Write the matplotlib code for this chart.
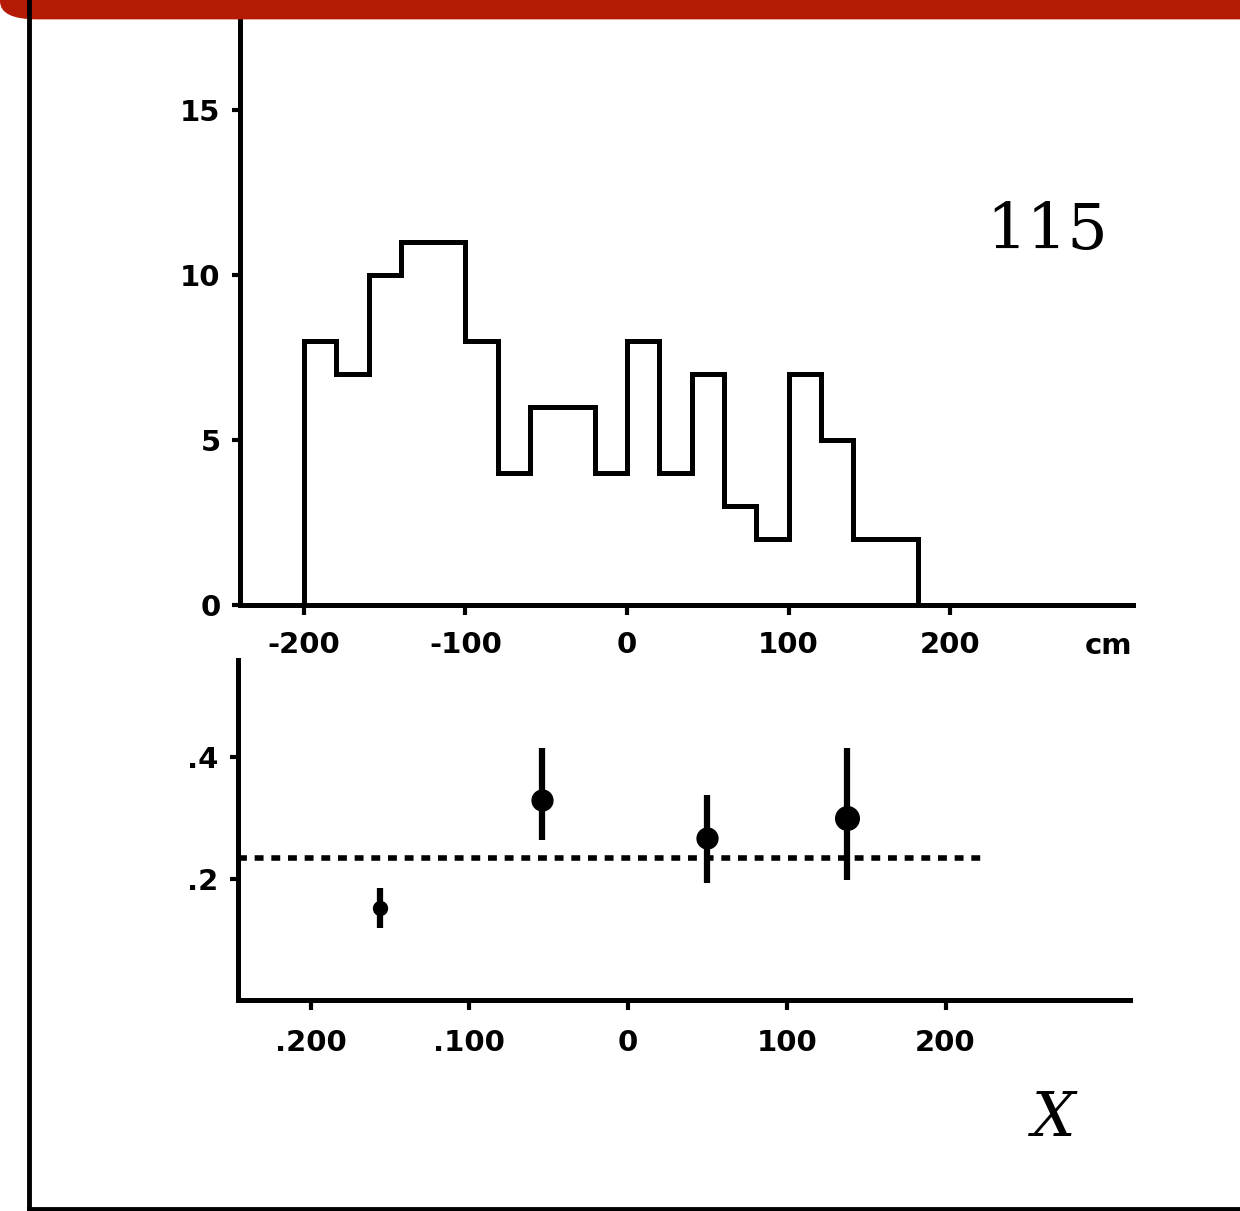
import matplotlib.pyplot as plt
from matplotlib.patches import FancyBboxPatch
from matplotlib.lines import Line2D

# histogram (upper panel), 20 cm bins
edges = [-200, -180, -160, -140, -120, -100, -80, -60, -40, -20,
         0, 20, 40, 60, 80, 100, 120, 140, 160, 180]
counts = [8, 7, 10, 11, 11, 8, 4, 6, 6, 4, 8, 4, 7, 3, 2, 7, 5, 2, 2]

# ratio points (lower panel)
px = [-156, -54, 50, 138]
py = [0.151, 0.329, 0.267, 0.300]
err_lo = [0.032, 0.066, 0.074, 0.102]
err_hi = [0.033, 0.086, 0.070, 0.115]
msize = [10, 15, 15, 17]
mean_level = 0.234
mean_range = [-246, 225]

up_xticks = [-200, -100, 0, 100, 200]
up_xlabels = ['-200', '-100', '0', '100', '200']
up_yticks = [0, 5, 10, 15]
up_ylabels = ['0', '5', '10', '15']
lo_xlabels = ['.200', '.100', '0', '100', '200']
lo_yticks = [0.2, 0.4]
lo_ylabels = ['.2', '.4']

fig = plt.figure(figsize=(12.4, 12.11), dpi=100)
lab_font = dict(family='DejaVu Sans', weight='bold', size=21)

# ---- upper panel
ax1 = fig.add_axes([0.1935, 0.5004, 0.72, 0.4996])
ax1.stairs(counts, edges, color='black', linewidth=3.6)
ax1.set_xlim(-239.6, 313)
ax1.set_ylim(0, 18.33)
for s in ['top', 'right']:
    ax1.spines[s].set_visible(False)
for s in ['left', 'bottom']:
    ax1.spines[s].set_linewidth(3.6)
ax1.set_xticks(up_xticks)
ax1.set_xticklabels(up_xlabels, fontdict=lab_font)
ax1.set_yticks(up_yticks)
ax1.set_yticklabels(up_ylabels, fontdict=lab_font)
ax1.tick_params(axis='x', direction='out', length=7, width=3, pad=12)
ax1.tick_params(axis='y', direction='out', length=6, width=3, pad=8)
ax1.text(1.0, -0.068, 'cm', transform=ax1.transAxes, ha='right', va='center',
         fontdict=lab_font)
ax1.text(0.904, 0.618, '115', transform=ax1.transAxes, ha='center', va='center',
         family='DejaVu Serif', size=46)

# ---- lower panel
ax2 = fig.add_axes([0.192, 0.1742, 0.719, 0.2808])
ax2.hlines(mean_level, mean_range[0], mean_range[1], color='black',
           linewidth=4, linestyles=(0, (1.6, 1.4)))
for i in range(len(px)):
    ax2.errorbar(px[i], py[i], yerr=[[err_lo[i]], [err_hi[i]]], fmt='o',
                 color='black', markersize=msize[i], elinewidth=4.5,
                 capsize=0, zorder=3)
ax2.set_xlim(-245.7, 316)
ax2.set_ylim(0, 0.56)
for s in ['top', 'right']:
    ax2.spines[s].set_visible(False)
for s in ['left', 'bottom']:
    ax2.spines[s].set_linewidth(3.6)
ax2.set_xticks(up_xticks)
ax2.set_xticklabels(lo_xlabels, fontdict=lab_font)
ax2.set_yticks(lo_yticks)
ax2.set_yticklabels(lo_ylabels, fontdict=lab_font)
ax2.tick_params(axis='x', direction='out', length=7, width=3, pad=14)
ax2.tick_params(axis='y', direction='out', length=6, width=3, pad=8)
ax2.text(0.915, -0.35, 'X', transform=ax2.transAxes, ha='center', va='center',
         family='DejaVu Serif', style='italic', size=44)

# ---- page frame and red banner
fig.add_artist(Line2D([0.023, 0.023], [0.0, 1.0], color='black', linewidth=3.5,
                      transform=fig.transFigure))
fig.add_artist(Line2D([0.023, 1.0], [0.002, 0.002], color='black', linewidth=3.5,
                      transform=fig.transFigure))
fig.add_artist(FancyBboxPatch((0.0, 0.984), 1.1, 0.05,
                              boxstyle='round,pad=0,rounding_size=0.03',
                              facecolor='#b51a04', edgecolor='none',
                              transform=fig.transFigure, mutation_aspect=0.5))

fig.savefig('out.png', dpi=100)
